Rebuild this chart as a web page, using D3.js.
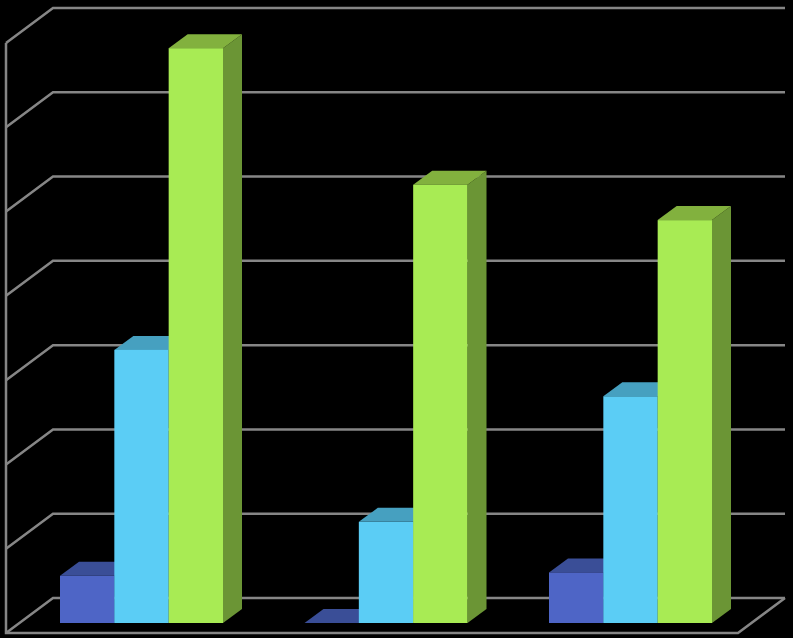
<!DOCTYPE html>
<html>
<head>
<meta charset="utf-8">
<script src="https://cdn.jsdelivr.net/npm/d3@7"></script>
<style>
  html, body { margin: 0; padding: 0; background: #000; }
  svg { display: block; }
</style>
</head>
<body>
<div id="chart"></div>
<script>
// The reference has no labels, so the names are placeholders and the values are in grid units
var categories = ["A", "B", "C"];
var seriesNames = ["blue", "cyan", "green"];
var blueValues = [0.56, 0, 0.6];
var cyanValues = [3.24, 1.2, 2.69];
var greenValues = [6.82, 5.2, 4.78];
var tickValues = [0, 1, 2, 3, 4, 5, 6, 7];

var allValues = [blueValues, cyanValues, greenValues];

var width = 793;
var height = 638;

// Wall and floor of the 3D box
var left = 6;
var right = 738;
var wallTop = 43;
var wallBottom = 633;
var wallDx = 47;
var wallDy = -35;

// Bars stand a little in from the front of the floor
var barBase = 623;
var barDx = 19;
var barDy = -14;

var colors = {
  blue: { front: "#4e65c6", top: "#3a4e97", side: "#3a4e97" },
  cyan: { front: "#5bcdf5", top: "#46a0c0", side: "#46a0c0" },
  green: { front: "#a8eb54", top: "#82b13e", side: "#6b9535" }
};

var svg = d3
  .select("#chart")
  .append("svg")
  .attr("width", width)
  .attr("height", height);

// Scales
var groupScale = d3.scaleBand().domain(categories).range([5, 738.5]);
var seriesScale = d3.scaleBand().domain(seriesNames).range([55, 218]);
var gridScale = d3.scaleLinear().domain([0, 7]).range([wallBottom, wallTop]);
var barScale = d3.scaleLinear().domain([0, 7]).range([barBase, barBase - 590]);

// Grid: one line over the side wall and along the back wall
var grid = svg
  .append("g")
  .attr("fill", "none")
  .attr("stroke", "#868686")
  .attr("stroke-width", 2.5);

grid
  .selectAll("path")
  .data(tickValues)
  .enter()
  .append("path")
  .attr("d", function(d) {
    var y = gridScale(d);
    return "M" + left + "," + y +
      "L" + (left + wallDx) + "," + (y + wallDy) +
      "L" + (right + wallDx) + "," + (y + wallDy);
  });

// Left edge and front edge of the floor
grid
  .append("path")
  .attr("d",
    "M" + left + "," + wallTop +
    "L" + left + "," + wallBottom +
    "L" + right + "," + wallBottom +
    "L" + (right + wallDx) + "," + (wallBottom + wallDy));

// Bars
categories.forEach(function(cat, i) {
  seriesNames.forEach(function(name, s) {
    var x0 = groupScale(cat) + seriesScale(name);
    var x1 = x0 + seriesScale.bandwidth();
    var yTop = barScale(allValues[s][i]);
    var g = svg.append("g");

    // Side
    g.append("path")
      .attr("fill", colors[name].side)
      .attr("d",
        "M" + x1 + "," + yTop +
        "L" + (x1 + barDx) + "," + (yTop + barDy) +
        "L" + (x1 + barDx) + "," + (barBase + barDy) +
        "L" + x1 + "," + barBase + "Z");

    // Top
    g.append("path")
      .attr("fill", colors[name].top)
      .attr("d",
        "M" + x0 + "," + yTop +
        "L" + (x0 + barDx) + "," + (yTop + barDy) +
        "L" + (x1 + barDx) + "," + (yTop + barDy) +
        "L" + x1 + "," + yTop + "Z");

    // Front
    g.append("rect")
      .attr("x", x0)
      .attr("y", yTop)
      .attr("width", x1 - x0)
      .attr("height", barBase - yTop)
      .attr("fill", colors[name].front);
  });
});
</script>
</body>
</html>
